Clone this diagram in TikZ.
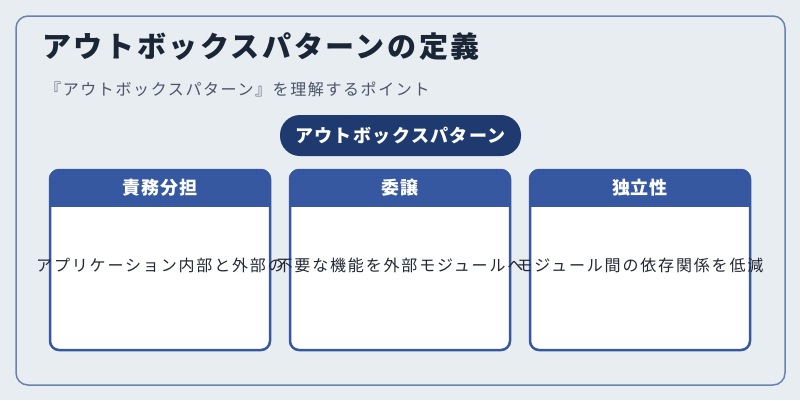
\documentclass[tikz,border=0pt]{standalone}
\usepackage{fontspec}
\setmainfont{Noto Sans CJK JP}
\newfontfamily\titlefont[LetterSpace=9]{Noto Sans CJK JP}
\newfontfamily\spacedfont[LetterSpace=10]{Noto Sans CJK JP}
\newfontfamily\bodyfont[LetterSpace=11.5]{Noto Sans CJK JP}
\newfontfamily\pillfont[LetterSpace=8]{Noto Sans CJK JP}
\newfontfamily\headfont[LetterSpace=5]{Noto Sans CJK JP}
\definecolor{bgc}{HTML}{E8EDF2}
\definecolor{framec}{HTML}{6B82AD}
\definecolor{titlec}{HTML}{1A2535}
\definecolor{subc}{HTML}{4A5568}
\definecolor{pillc}{HTML}{1F3A6E}
\definecolor{hdrc}{HTML}{3558A0}
\definecolor{txtc}{HTML}{222833}
\tikzset{
  frame/.style={draw=framec, line width=1.5pt, rounded corners=12pt, fill=bgc, minimum width=769pt, minimum height=369pt, inner sep=0pt, outer sep=0pt},
  titletxt/.style={anchor=west, text=titlec, font=\titlefont\fontsize{29}{33}\selectfont\bfseries, inner sep=0pt},
  subtxt/.style={anchor=west, text=subc, font=\spacedfont\fontsize{16}{20}\selectfont, inner sep=0pt},
  pill/.style={fill=pillc, text=white, rounded corners=20pt, minimum width=241pt, minimum height=41pt, inner sep=0pt, font=\pillfont\fontsize{18}{22}\selectfont\bfseries},
  card/.style={fill=white, minimum width=220pt, minimum height=180pt, inner sep=0pt, outer sep=0pt},
  cardborder/.style={draw=hdrc, line width=2.5pt, rounded corners=9pt},
  headtxt/.style={text=white, font=\headfont\fontsize{18}{22}\selectfont\bfseries, inner sep=0pt},
  bodytxt/.style={text=txtc, font=\bodyfont\fontsize{16}{20}\selectfont, inner sep=0pt}
}
\begin{document}
\begin{tikzpicture}[x=1pt,y=-1pt]
\fill[bgc] (0,0) rectangle (800,400);
\useasboundingbox (0,0) rectangle (800,400);
\node[frame] (fr) at (400.5,200.5) {};
\node[titletxt] (title) at (42,47) {アウトボックスパターンの定義};
\node[subtxt] (sub) at (45,89) {『アウトボックスパターン』を理解するポイント};
\node[pill] (pl) at (400.5,135.5) {アウトボックスパターン};
\foreach \n/\x in {1/160,2/400,3/640}{
  \node[card] (c\n) at (\x,260) {};
  \begin{scope}
    \clip[rounded corners=9pt] (c\n.north west) rectangle (c\n.south east);
    \fill[hdrc] (c\n.north west) rectangle ([yshift=-37pt]c\n.north east);
  \end{scope}
  \draw[cardborder] (c\n.north west) rectangle (c\n.south east);
}
\node[headtxt] (h1) at (160,188) {責務分担};
\node[headtxt] (h2) at (400,188) {委譲};
\node[headtxt] (h3) at (640,188) {独立性};
\node[bodytxt] (t1) at (160,265) {アプリケーション内部と外部の};
\node[bodytxt] (t2) at (400,265) {不要な機能を外部モジュールへ};
\node[bodytxt] (t3) at (640,265) {モジュール間の依存関係を低減};
\end{tikzpicture}
\end{document}
